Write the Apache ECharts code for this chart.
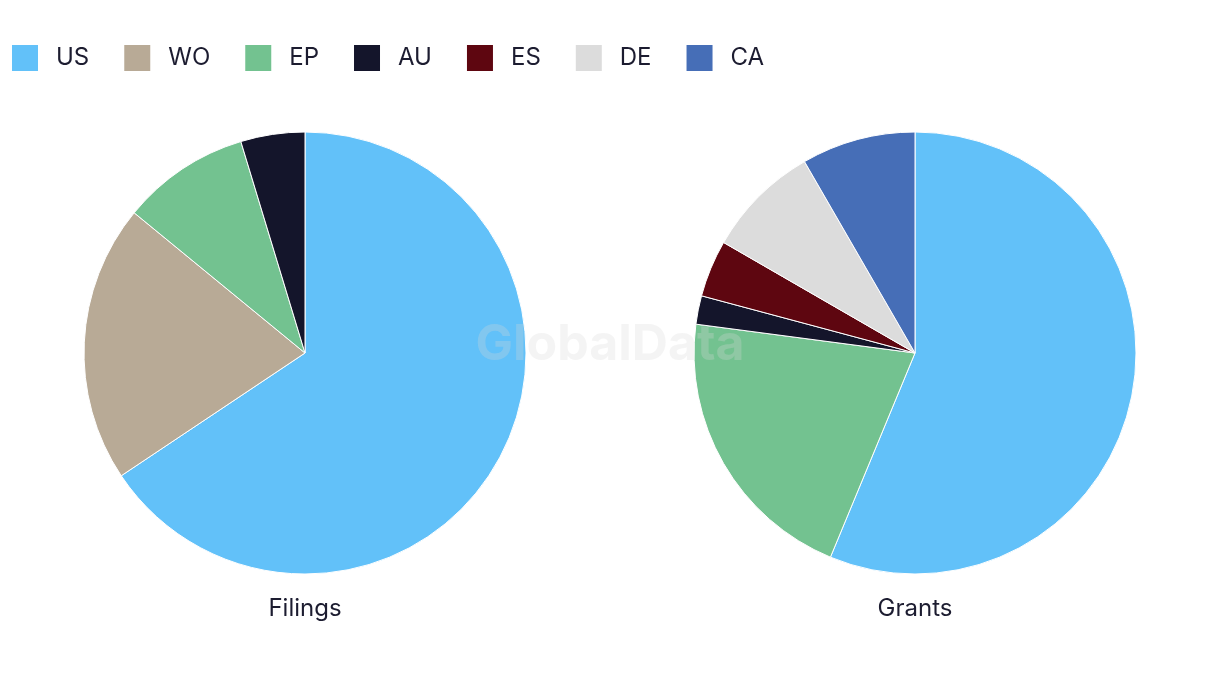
<!DOCTYPE html>
<html>
<head>
<meta charset="utf-8">
<script src="https://cdn.jsdelivr.net/npm/echarts@6/dist/echarts.min.js"></script>
<style>
html,body{margin:0;padding:0;background:#fff;}
#chart{width:1220px;height:686px;}
</style>
</head>
<body>
<div id="chart"></div>
<script>
const categories = ['US', 'WO', 'EP', 'AU', 'ES', 'DE', 'CA'];
const colors = {US:'#62c1f9', WO:'#b8aa96', EP:'#73c290', AU:'#14152b', ES:'#5e0610', DE:'#dcdcdc', CA:'#466eb7'};
const filingsNames = ['US', 'WO', 'EP', 'AU'];
const filingsValues = [42, 13, 6, 3];
const grantsNames = ['US', 'EP', 'AU', 'ES', 'DE', 'CA'];
const grantsValues = [27, 10, 1, 2, 4, 4];
const pieTitles = ['Filings', 'Grants'];

const textColor = '#1c1c30';
const font = 'Inter, "Liberation Sans", sans-serif';

function mk(names, vals){
  return names.map((n,i)=>({name:n, value:vals[i], itemStyle:{color:colors[n]}}));
}

const chart = echarts.init(document.getElementById('chart'));
chart.setOption({
  animation:false,
  backgroundColor:'#fff',
  legend:{
    data:categories,
    left:10, top:43, padding:0,
    icon:'rect',
    itemWidth:28, itemHeight:28,
    itemGap:33,
    textStyle:{fontSize:24, color:textColor, fontFamily:font, padding:[0,0,0,12]},
    selectedMode:false
  },
  title:[
    {text:pieTitles[0], left:'25%', top:597, padding:0, textAlign:'center', textStyle:{fontSize:24, fontWeight:'normal', color:textColor, fontFamily:font}},
    {text:pieTitles[1], left:'75%', top:597, padding:0, textAlign:'center', textStyle:{fontSize:24, fontWeight:'normal', color:textColor, fontFamily:font}}
  ],
  graphic:[{
    type:'text', left:'center', top:320, z:100, silent:true,
    style:{text:'GlobalData', fontSize:50, fontWeight:'bold', fontFamily:font, fill:'rgba(215,215,215,0.28)'}
  }],
  series:[
    {type:'pie', name:pieTitles[0], center:[305,353], radius:221, startAngle:90, clockwise:true,
     label:{show:false}, labelLine:{show:false}, emphasis:{disabled:true},
     itemStyle:{borderColor:'#fff', borderWidth:1},
     data:mk(filingsNames, filingsValues)},
    {type:'pie', name:pieTitles[1], center:[915,353], radius:221, startAngle:90, clockwise:true,
     label:{show:false}, labelLine:{show:false}, emphasis:{disabled:true},
     itemStyle:{borderColor:'#fff', borderWidth:1},
     data:mk(grantsNames, grantsValues)}
  ]
});
</script>
</body>
</html>
